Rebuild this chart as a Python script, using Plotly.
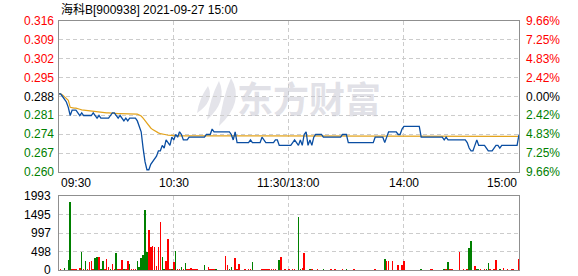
import plotly.graph_objects as go

# ---------------- data ----------------
title_text = "海科B[900938] 2021-09-27 15:00"
pre_close = 0.288
pct_ticks = [9.66, 7.25, 4.83, 2.42, 0.00, -2.42, -4.83, -7.25, -9.66]
price_labels = ["0.316", "0.309", "0.302", "0.295", "0.288", "0.281", "0.274", "0.267", "0.260"]
pct_labels = ["9.66%", "7.25%", "4.83%", "2.42%", "0.00%", "2.42%", "4.83%", "7.25%", "9.66%"]
time_ticks = [0, 60, 120, 180, 240]
time_labels = ["09:30", "10:30", "11:30/13:00", "14:00", "15:00"]
vol_ticks = [0, 498, 997, 1495, 1993]
vol_labels = ["0", "498", "997", "1495", "1993"]

# last price per minute, 09:30 .. 11:30 / 13:00 .. 15:00 (241 points)
price = [
    0.289, 0.289, 0.288, 0.287, 0.286, 0.284, 0.281, 0.283, 0.283, 0.283,
    0.282, 0.281, 0.282, 0.281, 0.281, 0.281, 0.281, 0.281, 0.282, 0.281,
    0.280, 0.281, 0.280, 0.280, 0.280, 0.280, 0.280, 0.281, 0.282, 0.282,
    0.281, 0.280, 0.281, 0.280, 0.279, 0.280, 0.279, 0.280, 0.280, 0.280,
    0.280, 0.279, 0.277, 0.275, 0.269, 0.264, 0.261, 0.261, 0.263, 0.264,
    0.265, 0.266, 0.268, 0.268, 0.270, 0.269, 0.272, 0.271, 0.270, 0.273,
    0.272, 0.274, 0.273, 0.275, 0.274, 0.272, 0.272, 0.272, 0.273, 0.273,
    0.273, 0.273, 0.273, 0.273, 0.273, 0.273, 0.273, 0.274, 0.274, 0.274,
    0.276, 0.275, 0.275, 0.275, 0.275, 0.275, 0.275, 0.275, 0.275, 0.275,
    0.274, 0.272, 0.275, 0.271, 0.271, 0.271, 0.271, 0.271, 0.271, 0.271,
    0.272, 0.271, 0.271, 0.271, 0.271, 0.271, 0.273, 0.272, 0.271, 0.271,
    0.271, 0.271, 0.271, 0.272, 0.272, 0.270, 0.270, 0.270, 0.270, 0.270,
    0.270, 0.270, 0.271, 0.272, 0.271, 0.270, 0.272, 0.270, 0.274, 0.275,
    0.270, 0.272, 0.270, 0.273, 0.274, 0.274, 0.274, 0.274, 0.273, 0.273,
    0.273, 0.273, 0.273, 0.273, 0.273, 0.273, 0.273, 0.273, 0.274, 0.274,
    0.274, 0.271, 0.271, 0.271, 0.271, 0.271, 0.271, 0.271, 0.271, 0.271,
    0.271, 0.271, 0.271, 0.271, 0.271, 0.273, 0.273, 0.273, 0.273, 0.273,
    0.271, 0.273, 0.275, 0.275, 0.275, 0.275, 0.275, 0.274, 0.274, 0.276,
    0.277, 0.277, 0.277, 0.277, 0.277, 0.277, 0.277, 0.277, 0.277, 0.273,
    0.273, 0.273, 0.273, 0.273, 0.273, 0.273, 0.273, 0.273, 0.273, 0.273,
    0.273, 0.272, 0.273, 0.272, 0.272, 0.272, 0.272, 0.272, 0.272, 0.272,
    0.272, 0.272, 0.272, 0.271, 0.269, 0.268, 0.268, 0.270, 0.272, 0.270,
    0.270, 0.270, 0.270, 0.269, 0.268, 0.268, 0.268, 0.269, 0.270, 0.270,
    0.269, 0.270, 0.270, 0.270, 0.270, 0.270, 0.270, 0.270, 0.270, 0.270,
    0.274,
]

# running average price per minute
avg_price = [
    0.2890, 0.2890, 0.2886, 0.2880, 0.2874, 0.2866, 0.2840, 0.2838, 0.2837, 0.2837,
    0.2836, 0.2833, 0.2831, 0.2830, 0.2829, 0.2828, 0.2827, 0.2826, 0.2825, 0.2825,
    0.2824, 0.2822, 0.2821, 0.2820, 0.2820, 0.2820, 0.2820, 0.2819, 0.2819, 0.2818,
    0.2818, 0.2817, 0.2817, 0.2817, 0.2817, 0.2816, 0.2816, 0.2816, 0.2816, 0.2816,
    0.2816, 0.2815, 0.2812, 0.2808, 0.2800, 0.2790, 0.2780, 0.2772, 0.2764, 0.2758,
    0.2753, 0.2749, 0.2746, 0.2743, 0.2741, 0.2740, 0.2739, 0.2738, 0.2737, 0.2736,
    0.2735, 0.2735, 0.2735, 0.2735, 0.2735, 0.2735, 0.2735, 0.2735, 0.2735, 0.2735,
    0.2735, 0.2735, 0.2735, 0.2735, 0.2735, 0.2735, 0.2735, 0.2735, 0.2735, 0.2735,
    0.2734, 0.2734, 0.2734, 0.2734, 0.2734, 0.2734, 0.2734, 0.2734, 0.2734, 0.2734,
    0.2734, 0.2734, 0.2734, 0.2734, 0.2734, 0.2734, 0.2734, 0.2734, 0.2734, 0.2734,
    0.2734, 0.2734, 0.2734, 0.2734, 0.2734, 0.2734, 0.2734, 0.2734, 0.2734, 0.2734,
    0.2734, 0.2734, 0.2734, 0.2734, 0.2734, 0.2734, 0.2734, 0.2734, 0.2734, 0.2734,
    0.2734, 0.2734, 0.2734, 0.2734, 0.2734, 0.2734, 0.2734, 0.2734, 0.2734, 0.2734,
    0.2734, 0.2734, 0.2734, 0.2734, 0.2734, 0.2734, 0.2734, 0.2734, 0.2734, 0.2734,
    0.2734, 0.2734, 0.2734, 0.2734, 0.2734, 0.2734, 0.2734, 0.2734, 0.2734, 0.2734,
    0.2733, 0.2733, 0.2733, 0.2733, 0.2733, 0.2733, 0.2733, 0.2733, 0.2733, 0.2733,
    0.2733, 0.2733, 0.2733, 0.2733, 0.2733, 0.2733, 0.2733, 0.2733, 0.2733, 0.2733,
    0.2733, 0.2733, 0.2733, 0.2733, 0.2733, 0.2733, 0.2733, 0.2733, 0.2733, 0.2733,
    0.2733, 0.2733, 0.2733, 0.2733, 0.2733, 0.2733, 0.2733, 0.2733, 0.2733, 0.2733,
    0.2733, 0.2733, 0.2733, 0.2733, 0.2733, 0.2733, 0.2733, 0.2733, 0.2733, 0.2733,
    0.2733, 0.2733, 0.2733, 0.2733, 0.2733, 0.2733, 0.2733, 0.2733, 0.2733, 0.2733,
    0.2733, 0.2733, 0.2733, 0.2733, 0.2733, 0.2733, 0.2733, 0.2733, 0.2733, 0.2733,
    0.2733, 0.2733, 0.2733, 0.2733, 0.2733, 0.2733, 0.2733, 0.2733, 0.2733, 0.2733,
    0.2733, 0.2733, 0.2733, 0.2733, 0.2733, 0.2733, 0.2733, 0.2733, 0.2733, 0.2733,
    0.2733,
]

# volume per minute (lots)
volume = [
    0, 27, 0, 63, 0, 278, 1849, 25, 25, 25,
    0, 54, 503, 25, 251, 25, 215, 251, 25, 341,
    359, 359, 25, 251, 25, 305, 99, 25, 170, 25,
    458, 25, 25, 278, 25, 25, 251, 170, 25, 25,
    25, 251, 90, 341, 413, 1625, 503, 1086, 637, 664,
    640, 117, 637, 1311, 368, 30, 251, 844, 25, 25,
    215, 521, 25, 25, 90, 25, 189, 25, 25, 63,
    25, 25, 25, 0, 0, 0, 144, 0, 90, 25,
    25, 25, 25, 0, 0, 0, 0, 386, 144, 25,
    90, 0, 341, 25, 170, 0, 0, 25, 0, 25,
    25, 224, 0, 0, 0, 0, 25, 25, 25, 25,
    25, 25, 25, 25, 0, 278, 368, 0, 25, 0,
    25, 0, 25, 25, 0, 1445, 25, 63, 467, 0,
    0, 25, 25, 0, 0, 25, 0, 0, 25, 0,
    0, 0, 25, 0, 25, 0, 0, 0, 25, 0,
    25, 0, 0, 0, 25, 0, 0, 0, 0, 0,
    0, 0, 0, 0, 0, 25, 0, 0, 0, 0,
    305, 251, 251, 0, 251, 0, 0, 144, 0, 144,
    251, 0, 0, 0, 0, 0, 0, 0, 0, 25,
    0, 0, 0, 0, 25, 25, 0, 0, 0, 0,
    0, 25, 25, 215, 25, 25, 0, 0, 0, 485,
    0, 25, 0, 25, 593, 790, 0, 117, 25, 25,
    25, 0, 25, 25, 198, 25, 0, 25, 278, 0,
    25, 0, 63, 0, 25, 0, 25, 25, 0, 0,
    305,
]

# 1 = buying-side (red) bar, 0 = selling-side (green) bar
vol_up = [
    1, 1, 1, 0, 1, 0, 0, 1, 1, 1,
    1, 1, 0, 1, 0, 1, 1, 1, 1, 0,
    0, 1, 0, 0, 1, 1, 1, 0, 1, 1,
    0, 1, 1, 1, 0, 1, 1, 0, 1, 1,
    1, 0, 0, 0, 0, 0, 0, 1, 1, 1,
    1, 1, 1, 1, 0, 0, 1, 1, 1, 0,
    1, 0, 1, 1, 0, 1, 0, 1, 1, 1,
    1, 1, 1, 1, 1, 1, 0, 1, 1, 1,
    1, 1, 0, 1, 1, 1, 1, 1, 1, 0,
    0, 1, 1, 1, 1, 1, 1, 1, 1, 1,
    1, 0, 1, 1, 1, 1, 1, 1, 1, 1,
    1, 1, 1, 1, 1, 0, 1, 1, 1, 1,
    1, 1, 1, 1, 1, 0, 0, 1, 1, 1,
    1, 0, 1, 1, 1, 1, 1, 1, 0, 1,
    1, 1, 1, 1, 1, 1, 1, 1, 1, 1,
    0, 1, 1, 1, 1, 1, 1, 1, 1, 1,
    1, 1, 1, 1, 1, 1, 1, 1, 1, 1,
    0, 1, 1, 1, 1, 1, 1, 1, 1, 1,
    1, 1, 1, 1, 1, 1, 1, 1, 1, 0,
    1, 1, 1, 1, 1, 1, 1, 1, 1, 1,
    1, 0, 1, 0, 1, 1, 1, 1, 1, 1,
    1, 1, 1, 1, 0, 0, 1, 1, 0, 0,
    1, 1, 1, 0, 0, 1, 1, 1, 1, 1,
    0, 1, 1, 1, 1, 1, 1, 1, 1, 1,
    1,
]

# ---------------- styling ----------------
W, H = 578, 276
PL, PR = 58.7, 519.0       # frame left / right (px)
PT, PB = 21.0, 172.0       # price panel top / bottom (px)
VT, VB = 196.3, 270.3      # volume panel top / bottom (px)

RED = "#ff0000"
GREEN = "#008000"
BLACK = "#000000"
LINE_BLUE = "#0a4ea2"
AVG_ORANGE = "#e3a31c"
GRID = "#cccccc"
FRAME = "#8f8f8f"
FONT = "Liberation Sans, Arial, sans-serif"


def fx(x):
    return x / W


def fy(y):
    return 1 - y / H


minutes = list(range(len(price)))
span = pct_ticks[0] / 100.0
y_lo, y_hi = pre_close * (1 - span), pre_close * (1 + span)
price_ticks = [pre_close * (1 + p / 100.0) for p in pct_ticks]

fig = go.Figure()

fig.add_trace(go.Scatter(
    x=minutes, y=avg_price, mode="lines",
    line=dict(color=AVG_ORANGE, width=1.2), hoverinfo="skip",
    xaxis="x", yaxis="y",
))
fig.add_trace(go.Scatter(
    x=minutes, y=price, mode="lines",
    line=dict(color=LINE_BLUE, width=1.3), hoverinfo="skip",
    xaxis="x", yaxis="y",
))
fig.add_trace(go.Bar(
    x=minutes, y=volume, width=0.8,
    marker=dict(color=[RED if u else GREEN for u in vol_up], line=dict(width=0)),
    hoverinfo="skip", xaxis="x2", yaxis="y2",
))

axis_common = dict(
    showline=True, linecolor=FRAME, linewidth=1, mirror=True,
    showgrid=True, gridcolor=GRID, gridwidth=1, griddash="4px,3px",
    zeroline=False, showticklabels=False, ticks="", fixedrange=True,
)

fig.update_layout(
    width=W, height=H, autosize=False,
    margin=dict(l=0, r=0, t=0, b=0, pad=0),
    paper_bgcolor="white", plot_bgcolor="rgba(0,0,0,0)",
    showlegend=False, bargap=0,
    xaxis=dict(domain=[fx(PL), fx(PR)], range=[0, 240],
               tickvals=time_ticks[1:-1], anchor="y", **axis_common),
    yaxis=dict(domain=[fy(PB), fy(PT)], range=[y_lo, y_hi],
               tickvals=price_ticks, anchor="x", **axis_common),
    xaxis2=dict(domain=[fx(PL), fx(PR)], range=[0, 240],
                tickvals=time_ticks[1:-1], anchor="y2", **axis_common),
    yaxis2=dict(domain=[fy(VB), fy(VT)], range=[0, vol_ticks[-1]],
                tickvals=vol_ticks, anchor="x2", **axis_common),
)

ann = []

# watermark
ann.append(dict(
    text="东方财富", xref="paper", yref="paper", x=fx(309), y=fy(97),
    xanchor="center", yanchor="middle", showarrow=False,
    font=dict(family="Noto Sans CJK SC", size=36, color="rgba(196,196,208,0.5)", weight=700),
))


def px_path(blade):
    p0, p1, p2, p3 = blade
    pts = lambda p: f"{fx(p[0]):.5f},{fy(p[1]):.5f}"
    return f"M{pts(p0)} Q{pts(p1)} {pts(p2)} Q{pts(p3)} {pts(p0)} Z"


logo_blades = [
    [(231, 78), (245, 102), (219, 126), (222, 99)],
    [(219, 81), (228, 101), (207, 120), (210, 98)],
    [(208, 86), (215, 101), (197, 113), (199, 99)],
]
shapes = [dict(type="path", xref="paper", yref="paper", path=px_path(b),
               fillcolor="#e4e4ea", line=dict(width=0), layer="below")
          for b in logo_blades]
fig.update_layout(shapes=shapes)

# title
ann.append(dict(
    text=title_text, xref="paper", yref="paper", x=fx(PL), y=fy(9),
    xanchor="left", yanchor="middle", showarrow=False,
    font=dict(family="Liberation Sans, Noto Sans CJK SC", size=12, color=BLACK),
))


def side_color(p):
    return RED if p > 0 else (GREEN if p < 0 else BLACK)


# price scale (left) and percent scale (right)
for val, lab, pct, plab in zip(price_ticks, price_labels, pct_ticks, pct_labels):
    c = side_color(pct)
    ann.append(dict(text=lab, xref="paper", yref="y", x=fx(56), y=val,
                    xanchor="right", yanchor="middle", showarrow=False,
                    font=dict(family=FONT, size=12, color=c)))
    ann.append(dict(text=plab, xref="paper", yref="y", x=fx(523.5), y=val,
                    xanchor="left", yanchor="middle", showarrow=False,
                    font=dict(family=FONT, size=12, color=c)))

# time labels
anchors = ["left", "center", "center", "center", "right"]
for t, lab, a in zip(time_ticks, time_labels, anchors):
    ann.append(dict(text=lab, xref="x", yref="paper", x=t, y=fy(182.5),
                    xanchor=a, yanchor="middle", showarrow=False,
                    font=dict(family=FONT, size=12, color=BLACK)))

# volume scale
for v, lab in zip(vol_ticks, vol_labels):
    ann.append(dict(text=lab, xref="paper", yref="y2", x=fx(52.5), y=v,
                    xanchor="right", yanchor="middle", showarrow=False,
                    font=dict(family=FONT, size=12, color=BLACK)))

fig.update_layout(annotations=ann)

fig.write_html("out.html", config={"displayModeBar": False, "staticPlot": True})
